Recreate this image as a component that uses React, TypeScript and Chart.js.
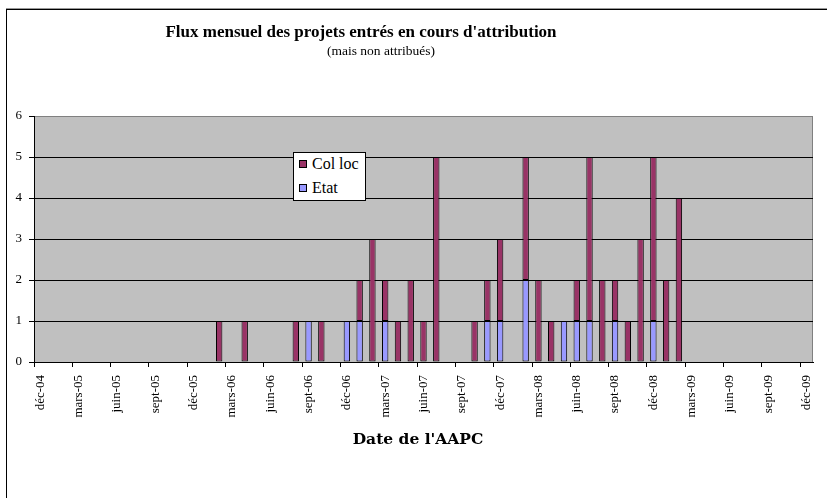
import React, { useEffect, useRef } from "react";
import { Chart, registerables } from "chart.js";
Chart.register(...registerables);

const months = [
  "déc-04", "janv-05", "févr-05", "mars-05", "avr-05", "mai-05", "juin-05", "juil-05", "août-05", "sept-05", "oct-05", "nov-05",
  "déc-05", "janv-06", "févr-06", "mars-06", "avr-06", "mai-06", "juin-06", "juil-06", "août-06", "sept-06", "oct-06", "nov-06",
  "déc-06", "janv-07", "févr-07", "mars-07", "avr-07", "mai-07", "juin-07", "juil-07", "août-07", "sept-07", "oct-07", "nov-07",
  "déc-07", "janv-08", "févr-08", "mars-08", "avr-08", "mai-08", "juin-08", "juil-08", "août-08", "sept-08", "oct-08", "nov-08",
  "déc-08", "janv-09", "févr-09", "mars-09", "avr-09", "mai-09", "juin-09", "juil-09", "août-09", "sept-09", "oct-09", "nov-09",
  "déc-09",
];

const colLoc = [
  0, 0, 0, 0, 0, 0, 0, 0, 0, 0, 0, 0,
  0, 0, 1, 0, 1, 0, 0, 0, 1, 0, 1, 0,
  0, 1, 3, 1, 1, 2, 1, 5, 0, 0, 1, 1,
  2, 0, 3, 2, 1, 0, 1, 4, 2, 1, 1, 3,
  4, 2, 4, 0, 0, 0, 0, 0, 0, 0, 0, 0,
  0,
];

const etat = [
  0, 0, 0, 0, 0, 0, 0, 0, 0, 0, 0, 0,
  0, 0, 0, 0, 0, 0, 0, 0, 0, 1, 0, 0,
  1, 1, 0, 1, 0, 0, 0, 0, 0, 0, 0, 1,
  1, 0, 2, 0, 0, 1, 1, 1, 0, 1, 0, 0,
  1, 0, 0, 0, 0, 0, 0, 0, 0, 0, 0, 0,
  0,
];

const yTicks = [0, 1, 2, 3, 4, 5, 6];

const COL_LOC = "#993366";
const ETAT = "#9999FF";
const FONT = "'Liberation Serif', serif";

const plotBg = {
  id: "plotBg",
  beforeDraw(chart: any) {
    const { ctx, chartArea } = chart;
    if (!chartArea) return;
    ctx.save();
    ctx.fillStyle = "#C0C0C0";
    ctx.fillRect(chartArea.left, chartArea.top, chartArea.right - chartArea.left, chartArea.bottom - chartArea.top);
    ctx.strokeStyle = "#808080";
    ctx.lineWidth = 1;
    ctx.beginPath();
    ctx.moveTo(chartArea.left, chartArea.top + 0.5);
    ctx.lineTo(chartArea.right - 0.5, chartArea.top + 0.5);
    ctx.lineTo(chartArea.right - 0.5, chartArea.bottom);
    ctx.stroke();
    ctx.restore();
  },
};

export default function App() {
  const ref = useRef<HTMLCanvasElement>(null);
  useEffect(() => {
    if (!ref.current) return;
    const chart = new Chart(ref.current, {
      type: "bar",
      data: {
        labels: months,
        datasets: [
          {
            label: "Etat",
            data: etat,
            backgroundColor: ETAT,
            borderColor: "#000",
            borderWidth: (c: any) => (c.raw ? 1 : 0),
            borderSkipped: false,
            categoryPercentage: 1,
            barPercentage: 0.5,
          },
          {
            label: "Col loc",
            data: colLoc,
            backgroundColor: COL_LOC,
            borderColor: "#000",
            borderWidth: (c: any) => (c.raw ? 1 : 0),
            borderSkipped: false,
            categoryPercentage: 1,
            barPercentage: 0.5,
          },
        ],
      },
      options: {
        animation: false,
        responsive: false,
        maintainAspectRatio: false,
        layout: { padding: { left: 0, top: 116, right: 14, bottom: 50 } },
        plugins: {
          legend: { display: false },
          title: { display: false },
          tooltip: { enabled: false },
        },
        scales: {
          x: {
            stacked: true,
            afterFit: (s: any) => {
              s.height = 86;
              s.paddingLeft = 0;
              s.paddingRight = 0;
            },
            grid: {
              offset: true,
              drawOnChartArea: false,
              drawTicks: true,
              tickLength: 5,
              color: (c: any) => (c.index % 3 === 0 ? "#000" : "rgba(0,0,0,0)"),
            },
            border: { display: true, color: "#000" },
            ticks: {
              autoSkip: false,
              maxRotation: 90,
              minRotation: 90,
              padding: 8,
              color: "#000",
              font: { family: FONT, size: 13 },
              callback: (_v: any, i: number) => (i % 3 === 0 ? months[i] : ""),
            },
          },
          y: {
            stacked: true,
            min: yTicks[0],
            max: yTicks[yTicks.length - 1],
            afterFit: (s: any) => {
              s.width = 34;
              s.paddingTop = 0;
              s.paddingBottom = 0;
            },
            afterBuildTicks: (s: any) => {
              s.ticks = yTicks.map((v) => ({ value: v }));
            },
            grid: {
              color: (c: any) => (c.tick && c.tick.value === 6 ? "#808080" : "#000"),
              tickColor: "#000",
              tickLength: 5,
            },
            border: { display: true, color: "#000" },
            ticks: {
              padding: 7,
              color: "#000",
              font: { family: FONT, size: 13 },
            },
          },
        },
      },
      plugins: [plotBg],
    });
    return () => chart.destroy();
  }, []);

  const swatch = (color: string): React.CSSProperties => ({
    position: "absolute",
    left: 5,
    width: 6,
    height: 6,
    background: color,
    border: "1px solid #000",
  });

  return (
    <div style={{ position: "absolute", left: 0, top: 0, width: 827, height: 498, background: "#fff", overflow: "hidden", fontFamily: FONT }}>
      <div style={{ position: "absolute", left: 6, top: 8, width: 821, height: 1, background: "#999" }} />
      <div style={{ position: "absolute", left: 6, top: 9, width: 821, height: 1, background: "#000" }} />
      <div style={{ position: "absolute", left: 6, top: 9, width: 1, height: 489, background: "#000" }} />
      <canvas ref={ref} width={827} height={498} style={{ position: "absolute", left: 0, top: 0 }} />
      <div style={{ position: "absolute", left: 111, top: 22, width: 500, textAlign: "center", fontWeight: "bold", fontSize: 17, lineHeight: "20px", color: "#000", whiteSpace: "nowrap" }}>
        Flux mensuel des projets entrés en cours d'attribution
      </div>
      <div style={{ position: "absolute", left: 281, top: 43, width: 200, textAlign: "center", fontSize: 13.5, lineHeight: "16px", color: "#000", whiteSpace: "nowrap" }}>
        (mais non attribués)
      </div>
      <div style={{ position: "absolute", left: 318, top: 428, width: 200, textAlign: "center", fontFamily: "'DejaVu Serif', serif", fontWeight: "bold", fontSize: 15.5, lineHeight: "22px", color: "#000", whiteSpace: "nowrap" }}>
        Date de l'AAPC
      </div>
      <div style={{ position: "absolute", left: 293, top: 152, width: 71, height: 47, background: "#fff", border: "1px solid #000", fontSize: 16, color: "#000" }}>
        <div style={{ ...swatch(COL_LOC), top: 7 }} />
        <div style={{ position: "absolute", left: 18, top: 2, lineHeight: "18px", whiteSpace: "nowrap" }}>Col loc</div>
        <div style={{ ...swatch(ETAT), top: 31 }} />
        <div style={{ position: "absolute", left: 18, top: 26, lineHeight: "18px", whiteSpace: "nowrap" }}>Etat</div>
      </div>
    </div>
  );
}
